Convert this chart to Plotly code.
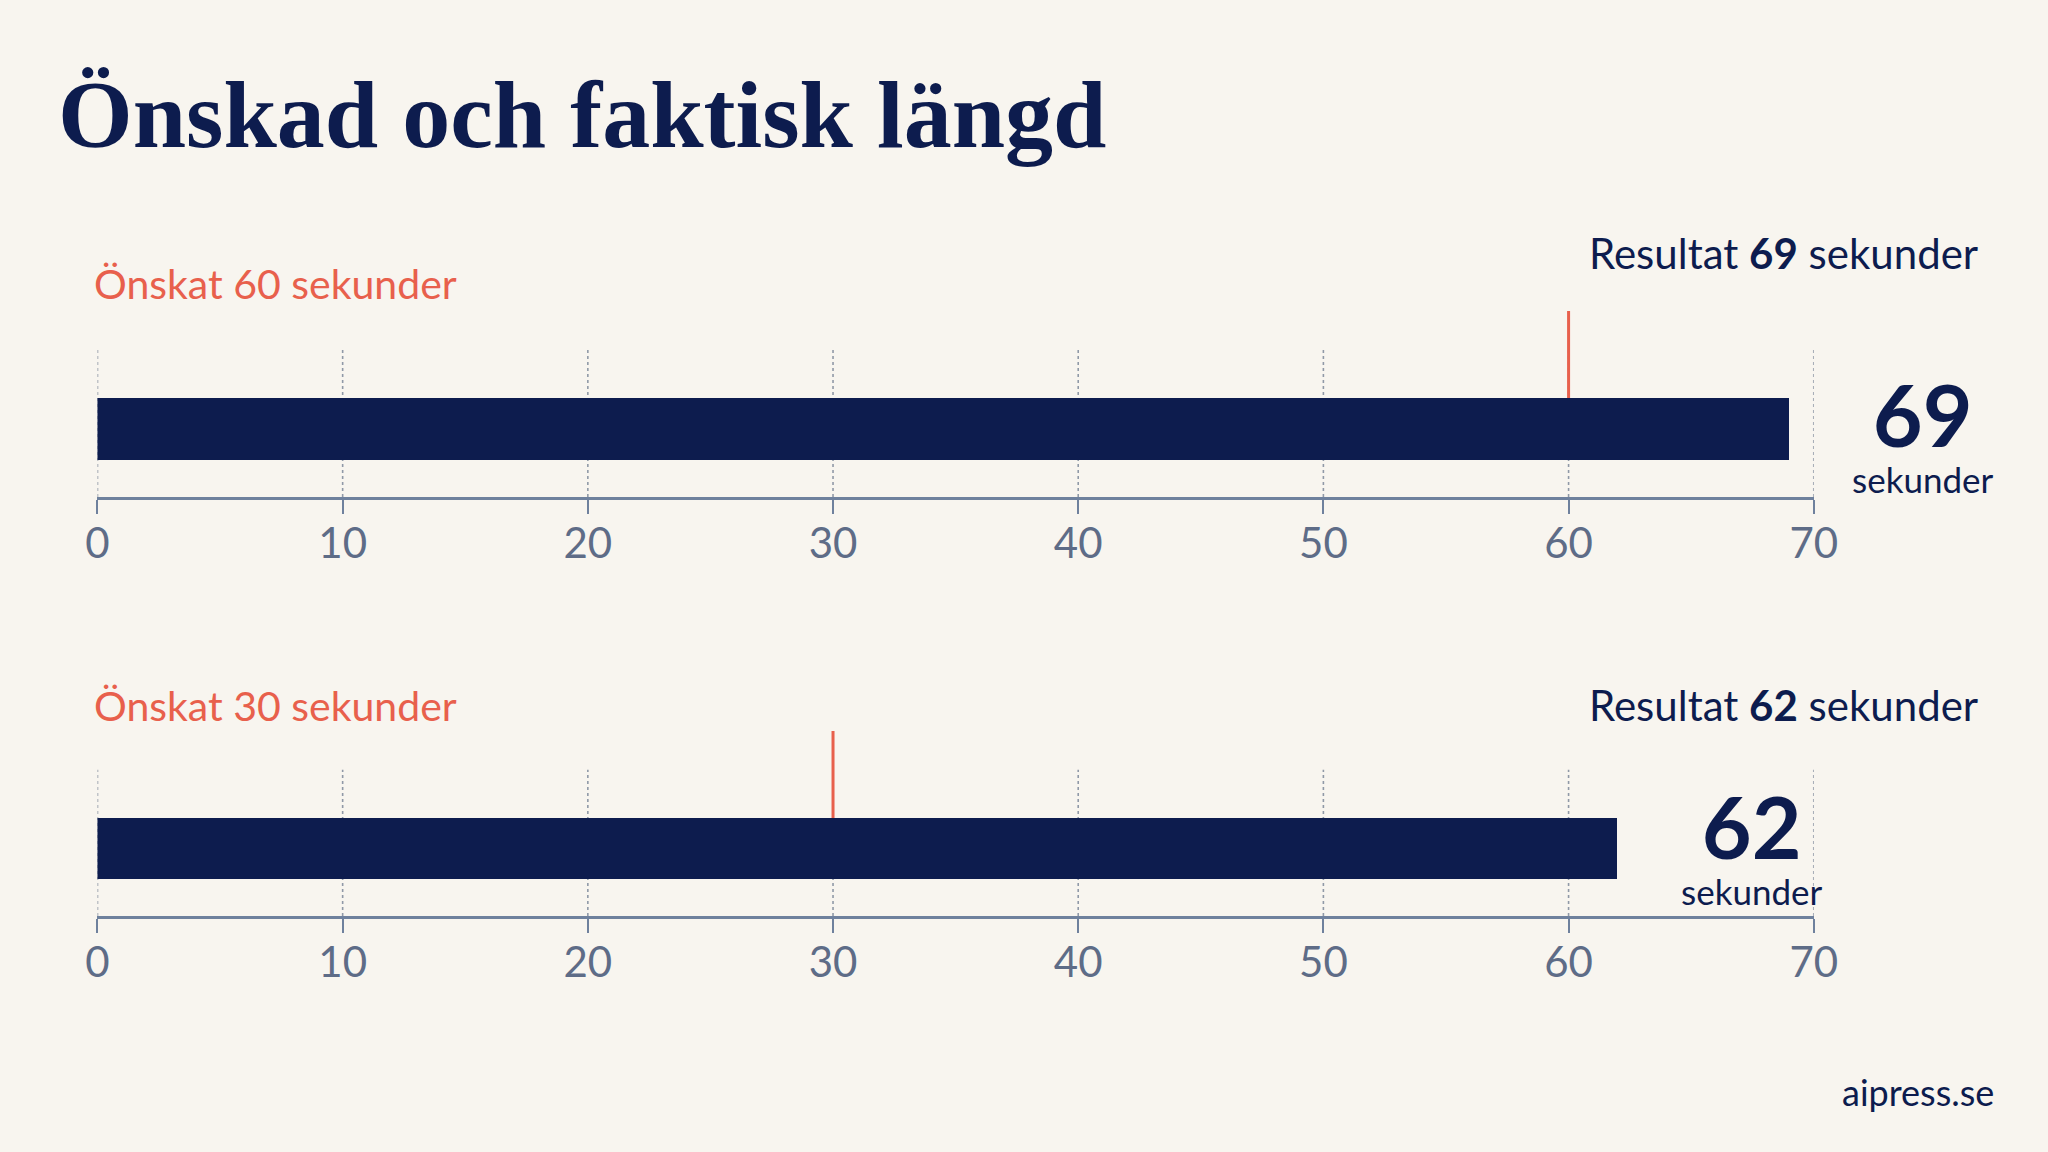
import plotly.graph_objects as go

# data
targets = [60, 30]          # önskad längd (sekunder)
results = [69, 62]          # faktisk längd (sekunder)
ticks = [0, 10, 20, 30, 40, 50, 60, 70]
tick_labels = ["0", "10", "20", "30", "40", "50", "60", "70"]

W, H = 2048, 1152
BG = "#F8F5EF"
NAVY = "#0D1C4E"
ORANGE = "#E8604C"
AXIS = "#6F819D"
TICKTXT = "#5E6C87"
GRID = "#9099A7"
SANS = "Lato"

# pixel layout of each panel: (top of plot area, axis line)
panels = [(311, 497), (731, 916)]
x_left, x_right = 87, 1834
bar_center = 0.365
bar_width = 0.33
grid_top = 0.79
label_yshift = [-5, 2]
heading_y = [(283, 253), (705, 705)]   # (önskat, resultat) centres in px

fig = go.Figure()
layout_axes = {}

for i, (target, result) in enumerate(zip(targets, results)):
    n = "" if i == 0 else str(i + 1)
    xa, ya = "x" + n, "y" + n
    top_px, axis_px = panels[i]

    fig.add_trace(go.Bar(
        x=[result], y=[bar_center], width=[bar_width], orientation="h",
        marker=dict(color=NAVY, line=dict(width=0)),
        xaxis=xa, yaxis=ya, showlegend=False, hoverinfo="x"
    ))

    layout_axes["xaxis" + n] = dict(
        domain=[x_left / W, x_right / W], range=[0, 70],
        tickvals=ticks, ticktext=tick_labels,
        showgrid=False, zeroline=False,
        showline=True, linecolor=AXIS, linewidth=2.5,
        ticks="outside", ticklen=14, tickwidth=2, tickcolor=AXIS,
        ticklabelstandoff=-6,
        tickfont=dict(family=SANS, size=42, color=TICKTXT),
        anchor=ya, fixedrange=True
    )
    layout_axes["yaxis" + n] = dict(
        domain=[1 - axis_px / H, 1 - top_px / H], range=[0, 1],
        visible=False, anchor=xa, fixedrange=True
    )

    # dotted gridlines behind the bar
    for t in ticks:
        fig.add_shape(type="line", xref=xa, yref=ya, x0=t, x1=t, y0=0, y1=grid_top,
                      line=dict(color=GRID, width=1.6, dash="dot"), layer="below")

    # target marker
    fig.add_shape(type="line", xref=xa, yref=ya, x0=target, x1=target,
                  y0=bar_center, y1=1, line=dict(color=ORANGE, width=3), layer="below")

    # value label next to bar end: big number with unit below
    fig.add_annotation(x=result, y=0, xref=xa, yref=ya,
                       text="<span style='font-size:86px'><b>%d</b></span><br>sekunder" % result,
                       showarrow=False, align="center",
                       xanchor="center", yanchor="bottom",
                       xshift=134, yshift=label_yshift[i],
                       font=dict(family=SANS, size=35, color=NAVY))

    # panel headings
    sub_y, res_y = heading_y[i]
    fig.add_annotation(x=81 / W, y=1 - sub_y / H, xref="paper", yref="paper",
                       text="Önskat %d sekunder" % target, showarrow=False,
                       xanchor="left", yanchor="middle",
                       font=dict(family=SANS, size=41, color=ORANGE))
    fig.add_annotation(x=2003 / W, y=1 - res_y / H, xref="paper", yref="paper",
                       text="Resultat <b>%d</b> sekunder" % result, showarrow=False,
                       xanchor="right", yanchor="middle",
                       font=dict(family=SANS, size=42, color=NAVY))

# title and footer
fig.add_annotation(x=45 / W, y=1 - 114 / H, xref="paper", yref="paper",
                   text="<b>Önskad och faktisk längd</b>", showarrow=False,
                   xanchor="left", yanchor="middle",
                   font=dict(family="Liberation Serif", size=96, color=NAVY))
fig.add_annotation(x=2020 / W, y=1 - 1092 / H, xref="paper", yref="paper",
                   text="aipress.se", showarrow=False,
                   xanchor="right", yanchor="middle",
                   font=dict(family=SANS, size=36, color=NAVY))

fig.update_layout(
    width=W, height=H,
    margin=dict(l=0, r=0, t=0, b=0),
    paper_bgcolor=BG, plot_bgcolor=BG,
    bargap=0, showlegend=False,
    **layout_axes
)

# drop the default page margin so the figure fills the window
fig.write_html("out.html", config={"displayModeBar": False},
               post_script="document.body.style.margin='0';")
